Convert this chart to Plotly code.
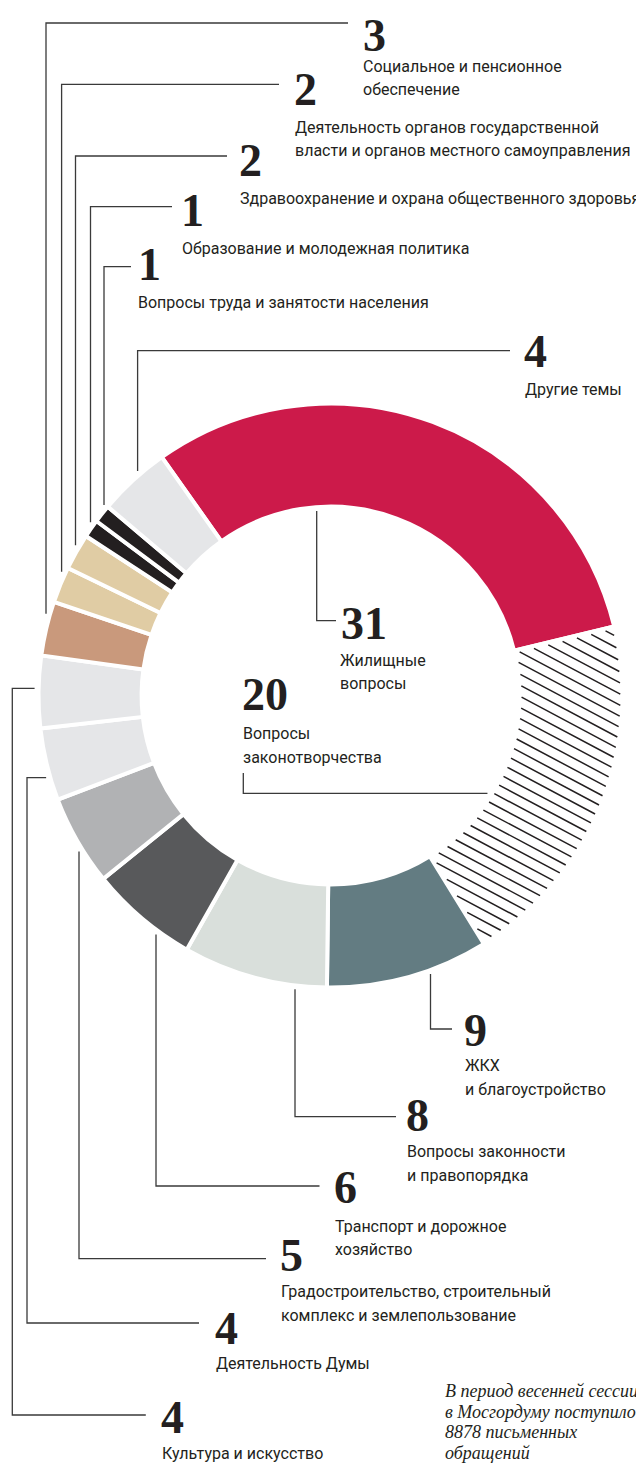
import math
import numpy as np
import plotly.graph_objects as go

# ---------------- data ----------------
topics = [
    "Жилищные вопросы",
    "Вопросы законотворчества",
    "ЖКХ и благоустройство",
    "Вопросы законности и правопорядка",
    "Транспорт и дорожное хозяйство",
    "Градостроительство, строительный комплекс и землепользование",
    "Деятельность Думы",
    "Культура и искусство",
    "Социальное и пенсионное обеспечение",
    "Деятельность органов государственной власти и органов местного самоуправления",
    "Здравоохранение и охрана общественного здоровья",
    "Образование и молодежная политика",
    "Вопросы труда и занятости населения",
    "Другие темы",
]
values = [31, 20, 9, 8, 6, 5, 4, 4, 3, 2, 2, 1, 1, 4]
label_lines = [
    ["Жилищные", "вопросы"],
    ["Вопросы", "законотворчества"],
    ["ЖКХ", "и благоустройство"],
    ["Вопросы законности", "и правопорядка"],
    ["Транспорт и дорожное", "хозяйство"],
    ["Градостроительство, строительный", "комплекс и землепользование"],
    ["Деятельность Думы"],
    ["Культура и искусство"],
    ["Социальное и пенсионное", "обеспечение"],
    ["Деятельность органов государственной", "власти и органов местного самоуправления"],
    ["Здравоохранение и охрана общественного здоровья"],
    ["Образование и молодежная политика"],
    ["Вопросы труда и занятости населения"],
    ["Другие темы"],
]
note_lines = ["В период весенней сессии", "в Мосгордуму поступило", "8878 письменных", "обращений"]

# ---------------- styles ----------------
slice_colors = ["#CC1A4A", "#FFFFFF", "#637C82", "#D9DFDB", "#58595B", "#B1B2B4",
                "#E5E6E8", "#E5E6E8", "#C9997C", "#E0CCA4", "#E0CCA4", "#231F20",
                "#231F20", "#E5E6E8"]
HATCH_INDEX = 1
INK = "#231F20"
LEAD = "#3A3A3A"
LABEL_FONT = "Roboto, sans-serif"
LABEL_SIZE = 16
NUM_FONT = "Liberation Serif, Times New Roman, serif"
NOTE_FONT = "Liberation Serif, Times New Roman, serif"

W, H = 644, 1469
SHIFT = 8              # page body margin: figure origin sits at screen (8, 8)
CX, CY = 330.5, 695.5  # screen coordinates of the ring centre
R_DOM = 292.0
LINE_W = 4
HOLE = 0.647
ROTATION = -35.3
R_VIS_OUT = R_DOM - LINE_W / 2
R_VIS_IN = R_DOM * HOLE + LINE_W / 2
PAD = 6

# ---------------- helpers ----------------
def top_y(x, r):
    return CY - math.sqrt(r * r - (x - CX) ** 2)

def bottom_y(x, r):
    return CY + math.sqrt(r * r - (x - CX) ** 2)

def left_x(y, r):
    return CX - math.sqrt(r * r - (y - CY) ** 2)

def right_x(y, r):
    return CX + math.sqrt(r * r - (y - CY) ** 2)

RO = R_VIS_OUT + PAD
RI = R_VIS_IN - PAD

# layout per topic: leader polyline, number position, text positions (screen px)
layout_spec = {
    0: dict(path=[(316.7, top_y(316.7, RI)), (316.7, 620.7), (336, 620.7)],
            num=(341.7, 623), text=(340, [660, 683.5])),
    1: dict(path=[(243.3, 773), (243.3, 793.3), (right_x(793.3, RI), 793.3)],
            num=(243, 694), text=(243, [733, 757])),
    2: dict(path=[(430.5, bottom_y(430.5, RO)), (430.5, 1029), (452, 1029)],
            num=(465, 1030), text=(465, [1065, 1089])),
    3: dict(path=[(295, bottom_y(295, RO)), (295, 1116.7), (396, 1116.7)],
            num=(406.6, 1114.5), text=(406.6, [1151.7, 1175.7])),
    4: dict(path=[(156, bottom_y(156, RO)), (156, 1186), (319.5, 1186)],
            num=(334.7, 1186.5), text=(334.7, [1226, 1249.5])),
    5: dict(path=[(79, bottom_y(79, RO)), (79, 1258.7), (266, 1258.7)],
            num=(280.5, 1254.5), text=(280.5, [1291.7, 1315.5])),
    6: dict(path=[(left_x(777.7, RO), 777.7), (27, 777.7), (27, 1323), (199, 1323)],
            num=(215.6, 1327.5), text=(215.6, [1363.5])),
    7: dict(path=[(left_x(688.3, RO), 688.3), (12.3, 688.3), (12.3, 1415), (145.8, 1415)],
            num=(162, 1416.5), text=(162, [1453])),
    8: dict(path=[(348, 23), (46, 23), (46, top_y(46, RO))],
            num=(364, 34.5), text=(363, [66, 89.5])),
    9: dict(path=[(279, 84.3), (61.6, 84.3), (61.6, top_y(61.6, RO))],
            num=(295, 88.5), text=(295, [127, 150.5])),
    10: dict(path=[(227, 156), (75.5, 156), (75.5, top_y(75.5, RO))],
             num=(240, 160), text=(240, [198])),
    11: dict(path=[(172, 206.7), (90.5, 206.7), (90.5, top_y(90.5, RO))],
             num=(182, 209.5), text=(182, [248])),
    12: dict(path=[(131, 266.7), (104, 266.7), (104, top_y(104, RO))],
             num=(139, 263.5), text=(138, [302])),
    13: dict(path=[(510, 350.7), (137.6, 350.7), (137.6, top_y(137.6, RO))],
             num=(525, 351), text=(525, [389])),
}

# ---------------- figure ----------------
fig = go.Figure()
fcx, fcy = CX - SHIFT, CY - SHIFT   # ring centre in figure px
fig.add_trace(go.Pie(
    values=values, labels=topics, sort=False, direction="clockwise",
    rotation=ROTATION, hole=HOLE, textinfo="none", showlegend=False,
    marker=dict(colors=slice_colors, line=dict(color="white", width=LINE_W)),
    domain=dict(x=[(fcx - R_DOM) / W, (fcx + R_DOM) / W],
                y=[(H - fcy - R_DOM) / H, (H - fcy + R_DOM) / H]),
))

shapes = []
annotations = []

# hatching of the "законотворчество" slice, derived from the slice angles
total = float(sum(values))
start_angle = ROTATION + 360.0 * sum(values[:HATCH_INDEX]) / total
end_angle = start_angle + 360.0 * values[HATCH_INDEX] / total
alpha = math.radians(28)
spacing = 9.8
dvec = (math.cos(alpha), math.sin(alpha))
nvec = (-math.sin(alpha), math.cos(alpha))
segs = []
K = int(R_VIS_OUT / spacing) + 2
ts = np.arange(-R_VIS_OUT - 4, R_VIS_OUT + 4, 0.25)
for k in range(-K, K + 1):
    ox = CX + k * spacing * nvec[0]
    oy = CY + k * spacing * nvec[1]
    xs = ox + ts * dvec[0]
    ys = oy + ts * dvec[1]
    dx = xs - CX
    dyu = CY - ys
    rr = np.hypot(dx, dyu)
    th = np.degrees(np.arctan2(dx, dyu))
    th = np.where(th < start_angle - 180, th + 360, th)
    gap_a = np.degrees(2.2 / np.maximum(rr, 1))
    inside = (rr >= R_VIS_IN) & (rr <= R_VIS_OUT) & (th >= start_angle + gap_a) & (th <= end_angle - gap_a)
    i = 0
    n = len(ts)
    while i < n:
        if inside[i]:
            j = i
            while j + 1 < n and inside[j + 1]:
                j += 1
            if j > i:
                segs.append(f"M{xs[i]:.2f},{ys[i]:.2f}L{xs[j]:.2f},{ys[j]:.2f}")
            i = j + 1
        else:
            i += 1
shapes.append(dict(type="path", path="".join(segs), xref="x", yref="y",
                   line=dict(color=INK, width=1.5), layer="above"))

for idx, spec in layout_spec.items():
    pts = spec["path"]
    p = "M" + "L".join(f"{x:.2f},{y:.2f}" for x, y in pts)
    shapes.append(dict(type="path", path=p, xref="x", yref="y",
                       line=dict(color=LEAD, width=1.3), layer="above"))
    nx, ny = spec["num"]
    annotations.append(dict(x=nx - 2, y=ny, xref="x", yref="y", text=str(values[idx]),
                            showarrow=False, xanchor="left", yanchor="middle",
                            height=40, valign="middle", borderpad=0,
                            font=dict(family=NUM_FONT, size=46, color=INK, weight="bold")))
    tx, tys = spec["text"]
    for line, ty in zip(label_lines[idx], tys):
        annotations.append(dict(x=tx - 2, y=ty, xref="x", yref="y", text=line,
                                showarrow=False, xanchor="left", yanchor="middle",
                                font=dict(family=LABEL_FONT, size=LABEL_SIZE, color=INK)))

for line, ty in zip(note_lines, [1391, 1411.5, 1432, 1452.5]):
    annotations.append(dict(x=443, y=ty, xref="x", yref="y", text=line,
                            showarrow=False, xanchor="left", yanchor="middle",
                            font=dict(family=NOTE_FONT, size=18, color=INK, style="italic")))

fig.update_layout(
    width=W, height=H, autosize=False,
    margin=dict(l=0, r=0, t=0, b=0, pad=0),
    paper_bgcolor="white", plot_bgcolor="rgba(0,0,0,0)",
    xaxis=dict(range=[SHIFT, W + SHIFT], visible=False, fixedrange=True),
    yaxis=dict(range=[H + SHIFT, SHIFT], visible=False, fixedrange=True),
    shapes=shapes, annotations=annotations,
)
fig.write_html("out.html")
